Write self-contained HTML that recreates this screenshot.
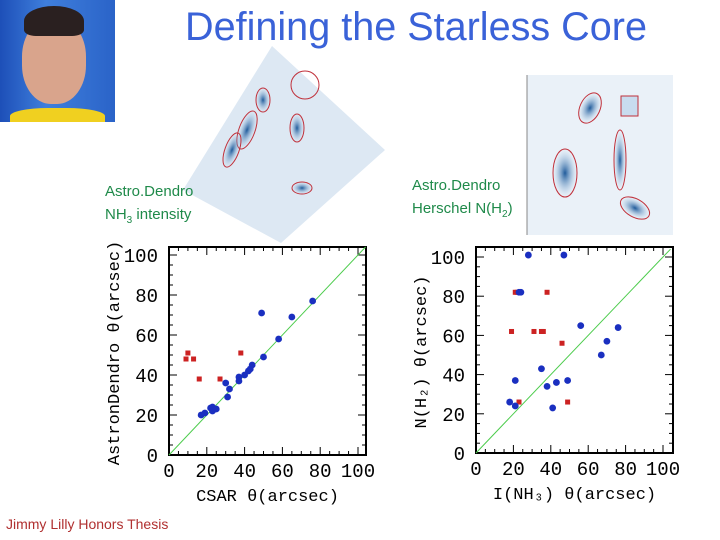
<!DOCTYPE html>
<html><head><meta charset="utf-8"><style>
body{margin:0;width:720px;height:540px;background:#fff;position:relative;overflow:hidden;font-family:"Liberation Sans",sans-serif}
.abs{position:absolute}
</style></head><body>
<div class="abs" style="left:0;top:0;width:115px;height:122px;background:linear-gradient(90deg,#1d4fb8,#3f7fdc 40%,#2a63c8);overflow:hidden">
 <div class="abs" style="left:22px;top:18px;width:64px;height:86px;border-radius:45%;background:#d9a48c"></div>
 <div class="abs" style="left:24px;top:6px;width:60px;height:30px;border-radius:50% 50% 20% 20%;background:#2a2020"></div>
 <div class="abs" style="left:10px;top:108px;width:95px;height:20px;border-radius:40% 40% 0 0;background:#f0d020"></div>
</div>
<div class="abs" style="left:185px;top:5px;font-size:39.6px;color:#3a62d8;white-space:nowrap">Defining the Starless Core</div>
<svg class="abs" style="left:0;top:0" width="720" height="540">
 <defs><radialGradient id="g"><stop offset="0" stop-color="#1f5a9a"/><stop offset="1" stop-color="#9cc0e0" stop-opacity="0"/></radialGradient></defs>
 <polygon points="183,190 272,46 385,150 281,243" fill="#dde8f3"/>
 <g fill="url(#g)" stroke="#c0303a" stroke-width="1">
  <ellipse cx="247" cy="130" rx="8" ry="20" transform="rotate(20 247 130)"/>
  <ellipse cx="263" cy="100" rx="7" ry="12"/>
  <ellipse cx="297" cy="128" rx="7" ry="14"/>
  <ellipse cx="232" cy="150" rx="7" ry="18" transform="rotate(20 232 150)"/>
  <ellipse cx="302" cy="188" rx="10" ry="6"/>
  <ellipse cx="305" cy="85" rx="14" ry="14" fill="none"/>
 </g>
 <rect x="527" y="75" width="146" height="160" fill="#eaf1f8"/>
 <line x1="527" y1="75" x2="527" y2="235" stroke="#888"/>
 <g fill="url(#g)" stroke="#c0303a" stroke-width="1">
  <ellipse cx="590" cy="108" rx="10" ry="16" transform="rotate(25 590 108)"/>
  <rect x="621" y="96" width="17" height="20" fill="#c8dcef"/>
  <ellipse cx="620" cy="160" rx="6" ry="30"/>
  <ellipse cx="565" cy="173" rx="12" ry="24"/>
  <ellipse cx="635" cy="208" rx="16" ry="9" transform="rotate(30 635 208)"/>
 </g>
</svg>
<div class="abs" style="left:105px;top:180px;font-size:15px;line-height:23px;color:#1f8a4a">Astro.Dendro<br>NH<sub style="font-size:10px">3</sub> intensity</div>
<div class="abs" style="left:412px;top:174px;font-size:15px;line-height:23px;color:#1f8a4a">Astro.Dendro<br>Herschel N(H<sub style="font-size:10px">2</sub>)</div>
<div class="abs" style="left:6px;top:516px;font-size:14px;color:#b03030">Jimmy Lilly Honors Thesis</div>
<svg id="c" class="abs" style="left:0;top:0" width="720" height="540" font-family="'Liberation Mono',monospace"></svg>
<script>
const ticks=[0,20,40,60,80,100];
const p1BlueX=[17,19,22,23,23,25,30,31,32,37,37,40,42,43,44,49,50,58,65,76];
const p1BlueY=[20,21,23.5,24,22,23,36,29,33,39,37,40,42,43,45,71,49,58,69,77];
const p1RedX=[9,10,13,16,27,38];
const p1RedY=[48,51,48,38,38,51];
const p2BlueX=[28,47,23,24,56,76,70,67,35,21,49,43,38,18,21,41];
const p2BlueY=[101,101,82,82,65,64,57,50,43,37,37,36,34,26,24,23];
const p2RedX=[21,22,38,19,31,35,36,46,23,49];
const p2RedY=[82,82,82,62,62,62,62,56,26,26];
const NS='http://www.w3.org/2000/svg',svg=document.getElementById('c');
function mk(t,a,txt){const e=document.createElementNS(NS,t);for(const k in a)e.setAttribute(k,a[k]);if(txt!=null)e.textContent=txt;svg.appendChild(e);return e;}
function plot(L,R,T,B,x0,x100,y0,y100,bx,by,rx,ry,xl,yl,id){
 const sx=v=>x0+(x100-x0)*v/100, sy=v=>y0+(y100-y0)*v/100;
 let f=mk('rect',{x:L,y:T,width:R-L,height:B-T,fill:'#fff',stroke:'#000','stroke-width':2});
 
 
 for(let v=0;v<=100;v+=5){const big=v%20==0,l=big?8:4;
  mk('line',{x1:sx(v),y1:B,x2:sx(v),y2:B-l,stroke:'#000'});mk('line',{x1:sx(v),y1:T,x2:sx(v),y2:T+l,stroke:'#000'});
  mk('line',{x1:L,y1:sy(v),x2:L+l,y2:sy(v),stroke:'#000'});mk('line',{x1:R,y1:sy(v),x2:R-l,y2:sy(v),stroke:'#000'});}
 ticks.forEach(v=>{let t=mk('text',{x:sx(v),y:B+22,'font-size':19,'text-anchor':'middle'},v);
  
  
  t=mk('text',{x:L-11,y:sy(v)+7,'font-size':19,'text-anchor':'end'},v);
  
  });
 let d=mk('line',{x1:sx(0),y1:sy(0),x2:sx(104),y2:sy(104),stroke:'#4ccc4c','stroke-width':1});
 
 
 rx.forEach((v,i)=>{let p=mk('rect',{x:sx(v)-2.5,y:sy(ry[i])-2.5,width:5,height:5,fill:'#cc2222'});
  
  });
 bx.forEach((v,i)=>{let p=mk('circle',{cx:sx(v),cy:sy(by[i]),r:3.4,fill:'#1a2fc0'});
  
  });
 let t=mk('text',{x:(L+R)/2,y:B+46,'font-size':17,'text-anchor':'middle'},xl);
 
 
 t=mk('text',{x:0,y:0,'font-size':17,'text-anchor':'middle',transform:`translate(${L-50},${(T+B)/2+2}) rotate(-90)`},yl);
 
 
}
plot(169,366,247,455,169,358,455,255,p1BlueX,p1BlueY,p1RedX,p1RedY,'CSAR θ(arcsec)','AstronDendro θ(arcsec)','chart1');
plot(476,673,247,453,476,663,453,257,p2BlueX,p2BlueY,p2RedX,p2RedY,'I(NH₃) θ(arcsec)','N(H₂) θ(arcsec)','chart2');
</script>
</body></html>
